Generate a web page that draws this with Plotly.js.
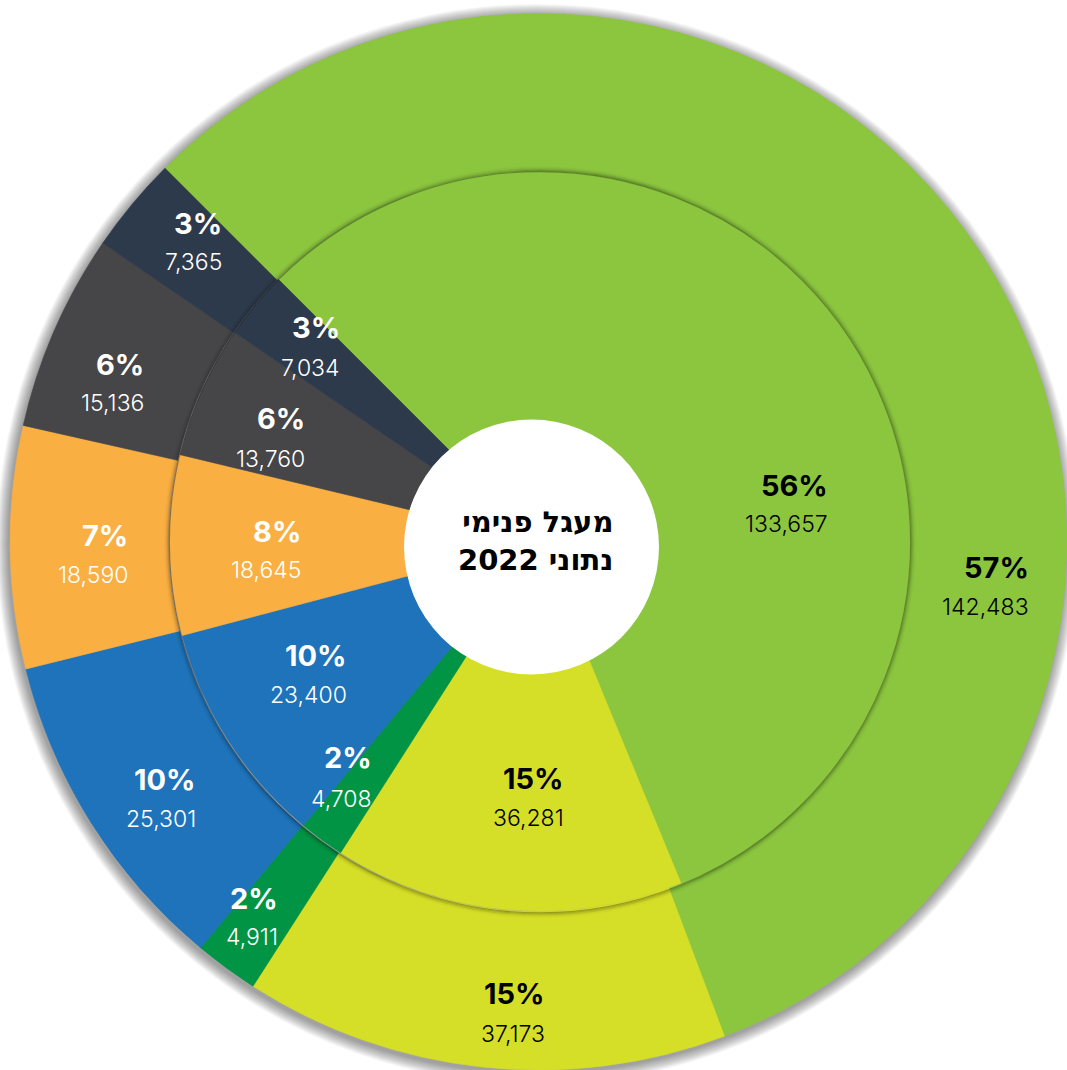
<!DOCTYPE html>
<html>
<head>
<meta charset="utf-8">
<script src="https://cdn.plot.ly/plotly-3.0.1.min.js"></script>
<style>
  html, body { margin: 0; padding: 0; background: #ffffff; overflow: hidden; }
  #chart { width: 1067px; height: 1070px; }
</style>
</head>
<body>
<div id="chart"></div>
<script>
// ---------- data ----------
const categories = ['ירוק', 'צהוב', 'ירוק כהה', 'כחול', 'כתום', 'אפור', 'כחול כהה'];
const outerValues = [142483, 37173, 4911, 25301, 18590, 15136, 7365];
const innerValues = [133657, 36281, 4708, 23400, 18645, 13760, 7034];
const centerTitleLines = ['מעגל פנימי', 'נתוני 2022'];

// ---------- styles ----------
const sliceColors = ['#8CC63F', '#D6DF27', '#009444', '#1E73BA', '#F9AF42', '#464547', '#2D3A4B'];
const labelColors = ['#000000', '#000000', '#ffffff', '#ffffff', '#ffffff', '#ffffff', '#ffffff'];

// ---------- layout geometry (pixels) ----------
const W = 1067, H = 1070;
const oCx = 538.5, oCy = 541.75, rOuter = 528.25;   // outer ring
const iCx = 540, iCy = 541, rInner = 370;            // inner ring
const holeCx = 531.5, holeCy = 547, holeR = 127.5;   // white centre disc

// label anchor positions: [right edge x, percent centre y, value centre y]
const outerLabelPos = [[1031, 567, 607], [547, 993, 1034], [280, 898, 937], [198, 779, 819],
                       [130, 535, 575], [146, 364, 403], [224, 223, 262]];
const innerLabelPos = [[830, 485, 524], [566, 778, 818], [374, 758, 799], [349, 655, 695],
                       [303, 531, 570], [307, 418, 459], [342, 327, 368]];

const px = x => x / W;
const py = y => 1 - y / H;

function domainFor(cx, cy, r) {
  return { x: [px(cx - r), px(cx + r)], y: [py(cy + r), py(cy - r)] };
}
function circleShape(cx, cy, r, extra) {
  return Object.assign({
    type: 'circle', xref: 'paper', yref: 'paper',
    x0: px(cx - r), x1: px(cx + r), y0: py(cy + r), y1: py(cy - r)
  }, extra);
}

const outerTrace = {
  type: 'pie', values: outerValues, labels: categories, sort: false,
  direction: 'clockwise', rotation: -45, hole: rInner / rOuter,
  marker: { colors: sliceColors, line: { color: sliceColors, width: 0.6 } },
  textinfo: 'none', hoverinfo: 'skip', showlegend: false,
  domain: domainFor(oCx, oCy, rOuter)
};
const innerTrace = {
  type: 'pie', values: innerValues, labels: categories, sort: false,
  direction: 'clockwise', rotation: -45, hole: 0,
  marker: { colors: sliceColors, line: { color: sliceColors, width: 0.6 } },
  textinfo: 'none', hoverinfo: 'skip', showlegend: false,
  domain: domainFor(iCx, iCy, rInner)
};

const pctFont = (c) => ({ family: 'Inter, "Open Sans", sans-serif', size: 29, color: c, weight: 900 });
const valFont = (c) => ({ family: 'Inter, "Open Sans", sans-serif', size: 23, color: c, weight: 300 });

function labelAnnotations(values, pos) {
  const total = values.reduce((a, b) => a + b, 0);
  const out = [];
  values.forEach((v, i) => {
    const p = pos[i];
    out.push({
      xref: 'paper', yref: 'paper', x: px(p[0]), y: py(p[1]),
      xanchor: 'right', yanchor: 'middle', showarrow: false,
      text: '<b>' + Math.round(v / total * 100) + '%</b>', font: pctFont(labelColors[i])
    });
    out.push({
      xref: 'paper', yref: 'paper', x: px(p[0]), y: py(p[2]),
      xanchor: 'right', yanchor: 'middle', showarrow: false,
      text: v.toLocaleString('en-US'), font: valFont(labelColors[i])
    });
  });
  return out;
}

const annotations = labelAnnotations(outerValues, outerLabelPos)
  .concat(labelAnnotations(innerValues, innerLabelPos));

annotations.push({
  xref: 'paper', yref: 'paper', x: px(615), y: py(541),
  xanchor: 'right', yanchor: 'middle', align: 'right', showarrow: false,
  text: centerTitleLines.map(t => '\u202B' + t + '\u202C').join('<br>'),
  font: { family: '"DejaVu Sans", "Liberation Sans", sans-serif', size: 29, color: '#000000', weight: 700 }
});

// ---------- decorative shadows ----------
const shapes = [];
// soft drop shadow behind the outer ring (drawn below the pies)
for (let k = 12; k >= 1; k--) {
  shapes.push(circleShape(oCx - 1.5, oCy + 2.5, rOuter + k, {
    layer: 'below', fillcolor: 'rgba(0,0,0,0.035)', line: { width: 0 }
  }));
}
// shadow cast by the inner ring onto the outer ring
const innerShadow = [[0.6, 0.30], [1.6, 0.22], [2.6, 0.14], [3.6, 0.08], [4.6, 0.04], [5.6, 0.02]];
innerShadow.forEach(([d, a]) => {
  shapes.push(circleShape(iCx, iCy + 1.2, rInner + d, {
    layer: 'above', fillcolor: 'rgba(0,0,0,0)', line: { width: 1.1, color: 'rgba(0,0,0,' + a + ')' }
  }));
});
// white centre disc
shapes.push(circleShape(holeCx, holeCy, holeR, { layer: 'above', fillcolor: '#ffffff', line: { width: 0 } }));

const layout = {
  width: W, height: H,
  margin: { l: 0, r: 0, t: 0, b: 0, pad: 0 },
  paper_bgcolor: '#ffffff', plot_bgcolor: 'rgba(0,0,0,0)',
  showlegend: false,
  shapes: shapes,
  annotations: annotations
};

Plotly.newPlot('chart', [outerTrace, innerTrace], layout, { staticPlot: true, displayModeBar: false });
</script>
</body>
</html>
